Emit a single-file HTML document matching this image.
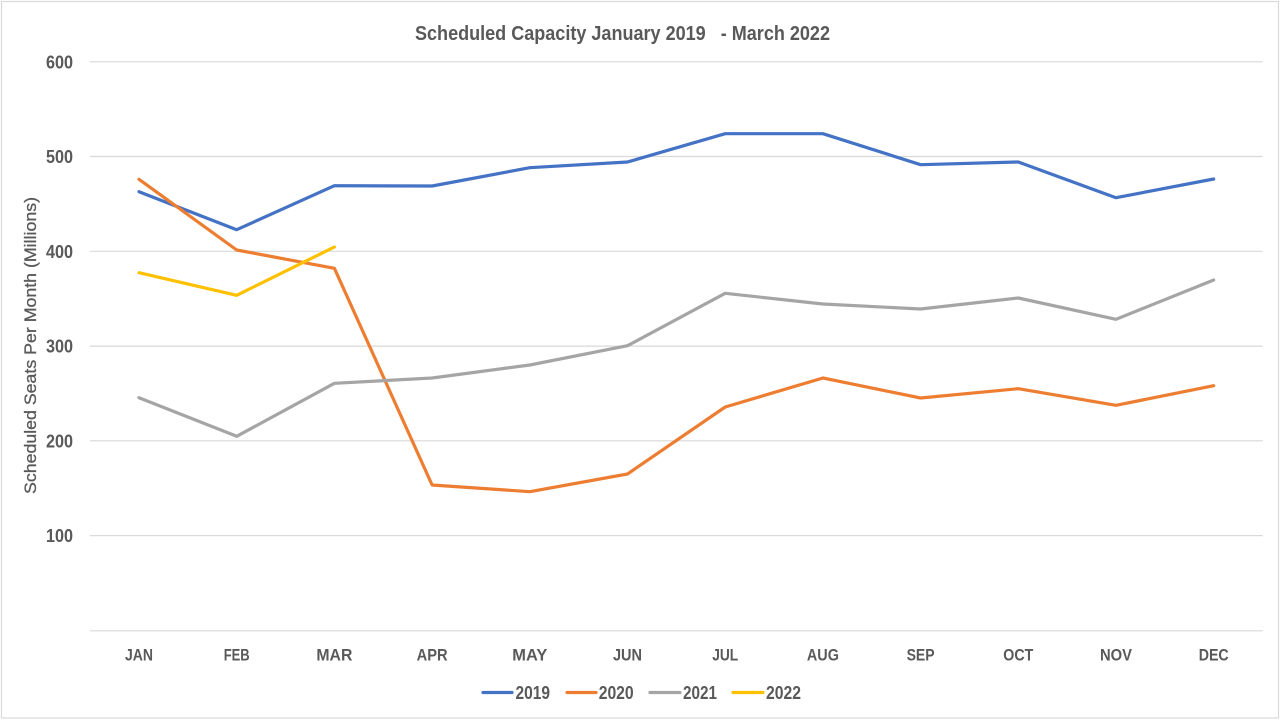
<!DOCTYPE html>
<html><head><meta charset="utf-8"><style>
html,body{margin:0;padding:0;background:#fff;}
svg{display:block;}
text{font-family:"Liberation Sans",sans-serif;fill:#595959;}
</style></head><body>
<svg width="1280" height="720" viewBox="0 0 1280 720" xmlns="http://www.w3.org/2000/svg">
<rect x="0" y="0" width="1280" height="720" fill="#fff"/>
<rect x="1.5" y="1.5" width="1277" height="716.5" fill="none" stroke="#d9d9d9" stroke-width="1.2"/>
<text x="622.5" y="40" font-size="20" font-weight="bold" text-anchor="middle" textLength="415" lengthAdjust="spacingAndGlyphs" xml:space="preserve">Scheduled Capacity January 2019   - March 2022</text>
<g stroke="#d9d9d9" stroke-width="1.2">
<line x1="90" y1="61.8" x2="1262.7" y2="61.8"/>
<line x1="90" y1="156.5" x2="1262.7" y2="156.5"/>
<line x1="90" y1="251.3" x2="1262.7" y2="251.3"/>
<line x1="90" y1="346.1" x2="1262.7" y2="346.1"/>
<line x1="90" y1="440.8" x2="1262.7" y2="440.8"/>
<line x1="90" y1="535.6" x2="1262.7" y2="535.6"/>
<line x1="90" y1="630.8" x2="1262.7" y2="630.8"/>
</g>
<g font-size="18" font-weight="bold" text-anchor="end">
<text x="73" y="68.5" textLength="27" lengthAdjust="spacingAndGlyphs">600</text>
<text x="73" y="163" textLength="27" lengthAdjust="spacingAndGlyphs">500</text>
<text x="73" y="258" textLength="27" lengthAdjust="spacingAndGlyphs">400</text>
<text x="73" y="352.5" textLength="27" lengthAdjust="spacingAndGlyphs">300</text>
<text x="73" y="447.5" textLength="27" lengthAdjust="spacingAndGlyphs">200</text>
<text x="73" y="542" textLength="27" lengthAdjust="spacingAndGlyphs">100</text>
</g>
<text transform="translate(36,345.5) rotate(-90)" font-size="17" text-anchor="middle" textLength="297" lengthAdjust="spacingAndGlyphs" style="stroke:#595959;stroke-width:0.3">Scheduled Seats Per Month (Millions)</text>
<g font-size="17" font-weight="bold" text-anchor="middle">
<text x="139" y="660.5" textLength="28" lengthAdjust="spacingAndGlyphs">JAN</text>
<text x="236.7" y="660.5" textLength="26" lengthAdjust="spacingAndGlyphs">FEB</text>
<text x="334.4" y="660.5" textLength="36" lengthAdjust="spacingAndGlyphs">MAR</text>
<text x="432.1" y="660.5" textLength="31" lengthAdjust="spacingAndGlyphs">APR</text>
<text x="529.8" y="660.5" textLength="35" lengthAdjust="spacingAndGlyphs">MAY</text>
<text x="627.5" y="660.5" textLength="29" lengthAdjust="spacingAndGlyphs">JUN</text>
<text x="725.2" y="660.5" textLength="26" lengthAdjust="spacingAndGlyphs">JUL</text>
<text x="822.9" y="660.5" textLength="32" lengthAdjust="spacingAndGlyphs">AUG</text>
<text x="920.6" y="660.5" textLength="28" lengthAdjust="spacingAndGlyphs">SEP</text>
<text x="1018.3" y="660.5" textLength="30" lengthAdjust="spacingAndGlyphs">OCT</text>
<text x="1116" y="660.5" textLength="32" lengthAdjust="spacingAndGlyphs">NOV</text>
<text x="1213.7" y="660.5" textLength="30" lengthAdjust="spacingAndGlyphs">DEC</text>
</g>
<g fill="none" stroke-width="3.2" stroke-linejoin="round" stroke-linecap="round">
<polyline stroke="#4472C4" points="139,191.7 236.7,229.7 334.4,185.7 432.1,186 529.8,167.7 627.5,162 725.2,133.7 822.9,133.7 920.6,164.7 1018.3,162 1116,197.7 1213.7,179"/>
<polyline stroke="#ED7D31" points="139,179.3 236.7,250 334.4,268.3 432.1,485 529.8,491.7 627.5,474 725.2,407 822.9,378 920.6,398 1018.3,388.7 1116,405.3 1213.7,385.7"/>
<polyline stroke="#A5A5A5" points="139,397.7 236.7,436.3 334.4,383.3 432.1,378 529.8,365 627.5,345.7 725.2,293.3 822.9,304 920.6,309 1018.3,298 1116,319.3 1213.7,280"/>
<polyline stroke="#FFC000" points="139,272.7 236.7,295.3 334.4,247"/>
</g>
<g stroke-width="3.2" stroke-linecap="round">
<line x1="483" y1="692.5" x2="512" y2="692.5" stroke="#4472C4"/>
<line x1="567" y1="692.5" x2="596" y2="692.5" stroke="#ED7D31"/>
<line x1="650" y1="692.5" x2="680" y2="692.5" stroke="#A5A5A5"/>
<line x1="733" y1="692.5" x2="763" y2="692.5" stroke="#FFC000"/>
</g>
<g font-size="18" font-weight="bold">
<text x="515.5" y="699" textLength="34.5" lengthAdjust="spacingAndGlyphs">2019</text>
<text x="598.7" y="699" textLength="35" lengthAdjust="spacingAndGlyphs">2020</text>
<text x="683" y="699" textLength="34" lengthAdjust="spacingAndGlyphs">2021</text>
<text x="766" y="699" textLength="35" lengthAdjust="spacingAndGlyphs">2022</text>
</g>
</svg>
</body></html>
